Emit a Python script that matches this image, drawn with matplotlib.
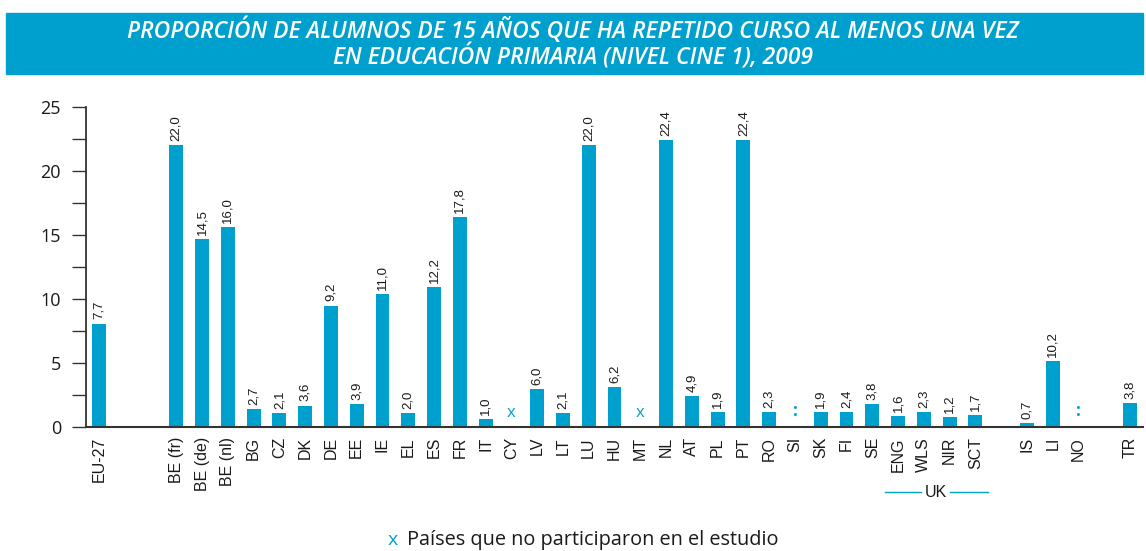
import matplotlib
matplotlib.use('Agg')
import matplotlib.pyplot as plt
import matplotlib.transforms as mtransforms
from matplotlib.patches import Rectangle
from matplotlib.ticker import MultipleLocator

# Datos
paises = ["EU-27", "BE (fr)", "BE (de)", "BE (nl)", "BG", "CZ", "DK", "DE", "EE", "IE",
          "EL", "ES", "FR", "IT", "CY", "LV", "LT", "LU", "HU", "MT", "NL", "AT", "PL",
          "PT", "RO", "SI", "SK", "FI", "SE", "ENG", "WLS", "NIR", "SCT", "IS", "LI",
          "NO", "TR"]
posiciones = [0, 3, 4, 5, 6, 7, 8, 9, 10, 11, 12, 13, 14, 15, 16, 17, 18, 19, 20, 21,
              22, 23, 24, 25, 26, 27, 28, 29, 30, 31, 32, 33, 34, 36, 37, 38, 40]
# altura de las barras tal como aparecen dibujadas
alturas = [8.1, 22.0, 14.7, 15.6, 1.4, 1.1, 1.7, 9.5, 1.8, 10.4,
           1.1, 10.95, 16.4, 0.65, 0, 3.0, 1.1, 22.0, 3.15, 0, 22.4, 2.45, 1.2,
           22.4, 1.2, 0, 1.2, 1.2, 1.8, 0.9, 1.2, 0.8, 0.95, 0.35, 5.2,
           0, 1.9]
# etiquetas de valor escritas sobre las barras
etiquetas = ["7,7", "22,0", "14,5", "16,0", "2,7", "2,1", "3,6", "9,2", "3,9", "11,0",
             "2,0", "12,2", "17,8", "1,0", "x", "6,0", "2,1", "22,0", "6,2", "x", "22,4", "4,9", "1,9",
             "22,4", "2,3", ":", "1,9", "2,4", "3,8", "1,6", "2,3", "1,2", "1,7", "0,7", "10,2",
             ":", "3,8"]

AZUL = '#00A0CE'
TEXTO = '#1a1a1a'

fig = plt.figure(figsize=(11.46, 5.51), dpi=100)

# Banda del título
fig.patches.append(Rectangle((6 / 1146, 1 - 74 / 551), 1137 / 1146, 61.3 / 551,
                             transform=fig.transFigure, color=AZUL, zorder=0))
fig.text(0.5, 1 - 30.5 / 551, "PROPORCIÓN DE ALUMNOS DE 15 AÑOS QUE HA REPETIDO CURSO AL MENOS UNA VEZ",
         ha='center', va='center', color='white', fontsize=16.5, fontweight='semibold',
         fontstyle='italic', family='Open Sans')
fig.text(0.5, 1 - 57.5 / 551, "EN EDUCACIÓN PRIMARIA (NIVEL CINE 1), 2009",
         ha='center', va='center', color='white', fontsize=16.5, fontweight='semibold',
         fontstyle='italic', family='Open Sans')

ax = fig.add_axes([86 / 1146, 1 - 427.3 / 551, 1057 / 1146, 320.3 / 551])

ax.bar(posiciones, alturas, width=0.54, color=AZUL, zorder=2)

for x, h, lab in zip(posiciones, alturas, etiquetas):
    if lab == 'x':
        ax.text(x, 1.15, 'x', ha='center', va='center', color=AZUL, fontsize=12,
                family='Open Sans')
    elif lab == ':':
        ax.text(x, 1.25, ':', ha='center', va='center', color=AZUL, fontsize=12,
                fontweight='bold', family='Open Sans')
    else:
        ax.annotate(lab, (x, h), xytext=(0, 3), textcoords='offset points',
                    rotation=90, ha='center', va='bottom', fontsize=9.5,
                    color=TEXTO, family='Liberation Sans')

ax.set_xlim(-0.5, 40.5)
ax.set_ylim(0, 25)
ax.spines['top'].set_visible(False)
ax.spines['right'].set_visible(False)
ax.spines['left'].set_color('#333333')
ax.spines['bottom'].set_color('#333333')
ax.spines['left'].set_linewidth(1.3)
ax.spines['bottom'].set_linewidth(1.5)

ax.yaxis.set_major_locator(MultipleLocator(5))
ax.yaxis.set_minor_locator(MultipleLocator(2.5))
ax.tick_params(axis='y', which='both', direction='out', length=10, width=1,
               color='#333333', pad=8, labelsize=13, labelcolor=TEXTO)
for t in ax.get_yticklabels():
    t.set_family('Open Sans')

ax.set_xticks(posiciones)
ax.set_xticklabels(paises, rotation=90, fontsize=11.5, family='Liberation Sans', color=TEXTO)
ax.tick_params(axis='x', length=0, pad=7)

# Agrupación UK
trans = mtransforms.blended_transform_factory(ax.transData, ax.transAxes)
yuk = -0.202
ax.plot([30.49, 31.87], [yuk, yuk], color=AZUL, lw=1, transform=trans, clip_on=False)
ax.plot([33.03, 34.48], [yuk, yuk], color=AZUL, lw=1, transform=trans, clip_on=False)
ax.text(32.45, yuk, "UK", ha='center', va='center', fontsize=11.5, color=TEXTO,
        family='Liberation Sans', transform=trans)

# Nota al pie
fig.text(388 / 1146, 6 / 551, "x", ha='left', va='baseline', color=AZUL, fontsize=14,
         family='Open Sans')
fig.text(407 / 1146, 6 / 551, "Países que no participaron en el estudio", ha='left',
         va='baseline', color=TEXTO, fontsize=14.3, family='Open Sans')

plt.savefig('out.png', dpi=100)
plt.close()
